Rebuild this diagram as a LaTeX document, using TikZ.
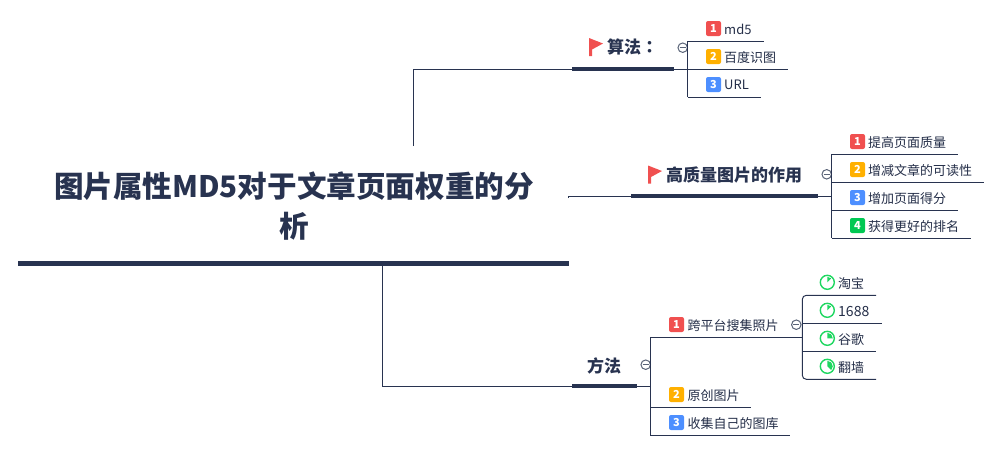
\documentclass[tikz,border=0pt]{standalone}
\usepackage{fontspec}
\setmainfont{Noto Sans CJK SC}
\newfontfamily\tcfont{Noto Sans CJK TC}
\definecolor{navy}{HTML}{283350}
\definecolor{bred}{HTML}{F05050}
\definecolor{byel}{HTML}{FFB000}
\definecolor{bblu}{HTML}{4D8FFF}
\definecolor{bgrn}{HTML}{00C853}
\definecolor{pgrn}{HTML}{1ED760}
\definecolor{mgry}{HTML}{5A6478}
\tikzset{
  x=1pt,y=-1pt,
  link/.style={draw=navy,line width=1pt},
  bar/.style={draw=navy,line width=4pt},
  mainbar/.style={draw=navy,line width=5pt},
  item/.style={anchor=west,inner sep=0pt,font=\fontsize{13}{15}\selectfont,text=navy!90!black},
  head/.style={anchor=west,inner sep=0pt,font=\fontsize{17}{20}\selectfont\bfseries,text=navy},
  badge/.style={fill=#1,rounded corners=2pt,minimum size=15pt,inner sep=0pt,text=white,font=\fontsize{11}{12}\selectfont\bfseries},
  collapse/.style={draw=mgry,line width=1pt,circle,minimum size=9.5pt,inner sep=0pt,fill=white,
    path picture={\draw[mgry,line width=1pt] ([xshift=-3pt]path picture bounding box.center) -- ([xshift=3pt]path picture bounding box.center);}}
}
\newcommand{\flagicon}[2]{\fill[bred] (#1,#2) -- (#1+14,#2+5.5) -- (#1+3,#2+11.5) -- (#1+3,#2+18) -- (#1,#2+18) -- cycle;}
\newcommand{\pieicon}[4]{% name x y angle
  \node[circle,draw=pgrn,line width=1.4pt,minimum size=14pt,inner sep=0pt,fill=white] (#1) at (#2,#3) {};
  \fill[pgrn] (#2,#3) -- (#2,#3-5.5) arc[start angle=90,delta angle=-#4,radius=5.5pt] -- cycle;}
\begin{document}
\begin{tikzpicture}
\useasboundingbox (0,0) rectangle (1000,451);
% root
\node[inner sep=0pt,font=\fontsize{29.6}{40}\selectfont\bfseries,text=navy,align=center,text width=520pt] (root) at (294,206) {图片属性MD5对于文章页面权重的分\\析};
\coordinate (rootL) at (18,263.5);
\coordinate (rootR) at (568.5,263.5);
\draw[mainbar] (rootL) -- (rootR);
% branch 1
\coordinate (a0) at (413.3,146);
\coordinate (a1) at (413.3,69.3);
\coordinate (a2) at (572,69.3);
\coordinate (a3) at (674,69.3);
\coordinate (a4) at (687.7,69.3);
\draw[link] (a0) -- (a1) -- (a2);
\draw[bar] (a2) -- (a3);
\draw[link] (a3) -- (a4);
\flagicon{589}{38}
\node[head] (h1) at (607,47) {算法{\tcfont ：}};
\node[collapse] (c1) at (682.7,47.7) {};
\coordinate (a5) at (687.7,41.3);
\coordinate (a6) at (687.7,97.3);
\draw[link] (a5) -- (a6);
\coordinate (a7) at (764,41.3);
\coordinate (a8) at (788,69.3);
\coordinate (a9) at (761,97.3);
\draw[link] (a5) -- (a7);
\draw[link] (a4) -- (a8);
\draw[link] (a6) -- (a9);
\node[badge=bred] (b11) at (713.5,28.5) {1};
\node[item] (t11) at (724,29.3) {md5};
\node[badge=byel] (b12) at (713.5,56.5) {2};
\node[item] (t12) at (724,57.3) {百度识图};
\node[badge=bblu] (b13) at (713.5,84.5) {3};
\node[item] (t13) at (724,85.3) {URL};
% branch 2
\coordinate (d00) at (568.5,198);
\coordinate (d0) at (568.5,196.3);
\coordinate (d1) at (631,196.3);
\coordinate (d2) at (818,196.3);
\coordinate (d3) at (831.7,196.3);
\draw[link] (d00) -- (d0) -- (d1);
\draw[bar] (d1) -- (d2);
\draw[link] (d2) -- (d3);
\flagicon{648}{165.5}
\node[head] (h2) at (666,175) {高质量图片的作用};
\node[collapse] (c2) at (826.7,174.3) {};
\coordinate (d4) at (831.7,154.3);
\coordinate (d5) at (831.7,238.3);
\coordinate (d6) at (831.7,182.3);
\coordinate (d7) at (831.7,210.3);
\draw[link] (d4) -- (d5);
\coordinate (d8) at (958,154.3);
\coordinate (d9) at (984,182.3);
\coordinate (d10) at (958,210.3);
\coordinate (d11) at (971,238.3);
\draw[link] (d4) -- (d8);
\draw[link] (d6) -- (d9);
\draw[link] (d7) -- (d10);
\draw[link] (d5) -- (d11);
\node[badge=bred] (b21) at (857.5,141.5) {1};
\node[item] (t21) at (868,142.3) {提高页面质量};
\node[badge=byel] (b22) at (857.5,169.5) {2};
\node[item] (t22) at (868,170.3) {增减文章的可读性};
\node[badge=bblu] (b23) at (857.5,197.5) {3};
\node[item] (t23) at (868,198.3) {增加页面得分};
\node[badge=bgrn] (b24) at (857.5,225.5) {4};
\node[item] (t24) at (868,226.3) {获得更好的排名};
% branch 3
\coordinate (m0) at (382.8,266);
\coordinate (m1) at (382.8,386);
\coordinate (m2) at (572,386);
\coordinate (m3) at (637,386);
\coordinate (m4) at (650.3,386);
\draw[link] (m0) -- (m1) -- (m2);
\draw[bar] (m2) -- (m3);
\draw[link] (m3) -- (m4);
\node[head] (h3) at (587,365.5) {方法};
\node[collapse] (c3) at (645.7,364.7) {};
\coordinate (m5) at (650.3,337.3);
\coordinate (m6) at (650.3,407.3);
\coordinate (m7) at (650.3,435.3);
\draw[link] (m5) -- (m7);
\coordinate (m8) at (802.3,337.3);
\coordinate (m9) at (751,407.3);
\coordinate (m10) at (790,435.3);
\draw[link] (m5) -- (m8);
\draw[link] (m6) -- (m9);
\draw[link] (m7) -- (m10);
\node[badge=bred] (b31) at (676.5,324.5) {1};
\node[item] (t31) at (687.5,325.3) {跨平台搜集照片};
\node[badge=byel] (b32) at (676.5,394.5) {2};
\node[item] (t32) at (687.5,395.3) {原创图片};
\node[badge=bblu] (b33) at (676.5,422.5) {3};
\node[item] (t33) at (687.5,423.3) {收集自己的图库};
\node[collapse] (c4) at (796.3,324.7) {};
% sub branch
\coordinate (s1) at (876,295.3);
\coordinate (s2) at (882,323.3);
\coordinate (s3) at (876,351.3);
\coordinate (s4) at (876,379.3);
\coordinate (sv) at (802.3,323.3);
\coordinate (sw) at (802.3,351.3);
\draw[link,rounded corners=4pt] (s1) -- (802.3,295.3) -- (802.3,379.3) -- (s4);
\draw[link] (sv) -- (s2);
\draw[link] (sw) -- (s3);
\pieicon{p1}{827.3}{282.3}{45}
\pieicon{p2}{827.3}{310.3}{45}
\pieicon{p3}{827.3}{338.3}{90}
\pieicon{p4}{827.3}{366.3}{135}
\node[item] (t41) at (838,283.3) {淘宝};
\node[item,font=\fontsize{14}{15}\selectfont] (t42) at (838,311.3) {1688};
\node[item] (t43) at (838,339.3) {谷歌};
\node[item] (t44) at (838,367.3) {翻墙};
\end{tikzpicture}
\end{document}
